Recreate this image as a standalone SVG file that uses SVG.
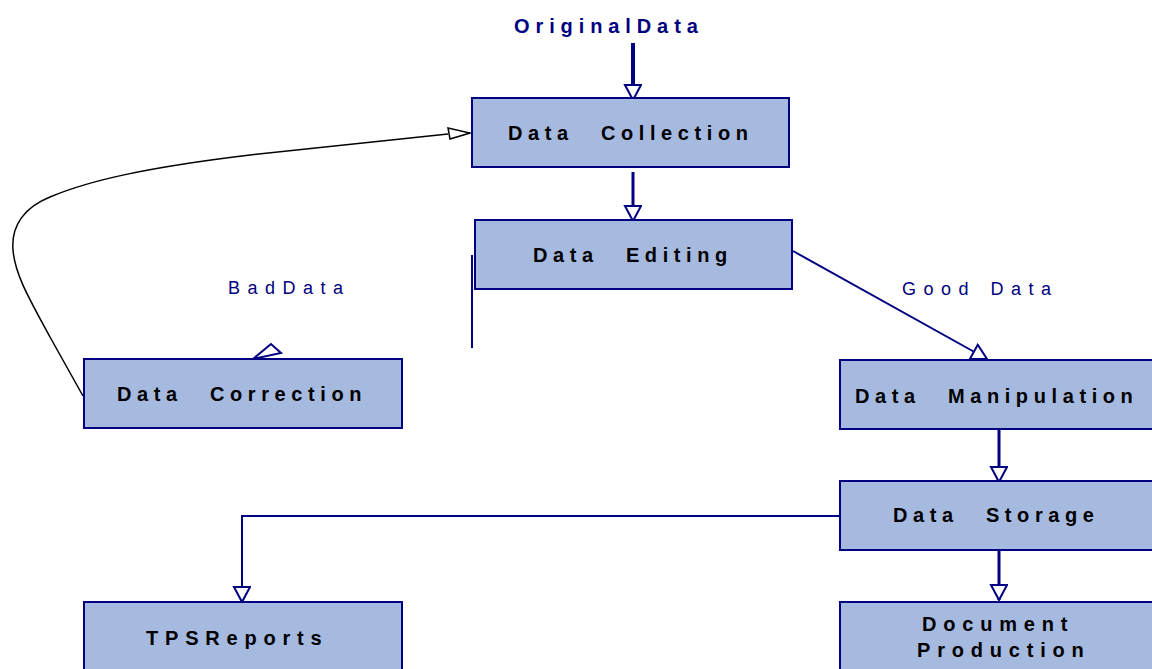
<svg xmlns="http://www.w3.org/2000/svg" width="1152" height="669" viewBox="0 0 1152 669">
  <style>
    .box { fill: #A6B9DF; stroke: #000080; stroke-width: 2; }
    .lbl { font-family: "Liberation Sans", Arial, sans-serif; font-weight: bold; font-size: 20px; fill: #000000; letter-spacing: 5.6px; word-spacing: 16px; }
    .lbl2 { font-family: "Liberation Sans", Arial, sans-serif; font-weight: bold; font-size: 20px; fill: #000000; letter-spacing: 6.8px; }
    .ttl { font-family: "Liberation Sans", Arial, sans-serif; font-weight: bold; font-size: 20px; fill: #000080; letter-spacing: 5.9px; }
    .edge { font-family: "Liberation Sans", Arial, sans-serif; font-size: 18px; fill: #000080; letter-spacing: 7.5px; }
    .conn { fill: none; stroke: #000080; stroke-width: 2; }
    .head { fill: #FFFFFF; stroke: #000080; stroke-width: 2; stroke-linejoin: miter; }
  </style>
  <defs>
    <marker id="tri" markerUnits="userSpaceOnUse" markerWidth="24" markerHeight="24" viewBox="0 0 24 24" refX="17" refY="9" orient="auto">
      <path d="M2,1 L17,9 L2,17 Z" fill="#FFFFFF" stroke="#000080" stroke-width="2"/>
    </marker>
  </defs>

  <g id="connectors">
    <line class="conn" x1="633" y1="43" x2="633" y2="100" style="stroke-width:4" marker-end="url(#tri)"/>
    <line class="conn" x1="633" y1="172" x2="633" y2="221" style="stroke-width:3" marker-end="url(#tri)"/>
    <line class="conn" x1="793" y1="251" x2="987" y2="359" marker-end="url(#tri)"/>
    <line class="conn" x1="472" y1="255" x2="472" y2="348"/>
    <polygon class="head" points="253,359 271,344 281,353"/>
    <path d="M83,396 L50,337 C30,300 15,275 13,250 C11,225 25,207 50,197 C90,180 150,167 250,155 L448,134" fill="none" stroke="#000000" stroke-width="1.5"/>
    <polygon points="448,128 470,133 450,139" fill="#FFFFFF" stroke="#000000" stroke-width="1.5"/>
    <line class="conn" x1="999" y1="429" x2="999" y2="482" style="stroke-width:3" marker-end="url(#tri)"/>
    <polyline class="conn" points="840,516 242,516 242,602" marker-end="url(#tri)"/>
    <line class="conn" x1="999" y1="550" x2="999" y2="600" style="stroke-width:3" marker-end="url(#tri)"/>
    <text class="ttl" x="514" y="33">OriginalData</text>
    <text class="edge" x="228" y="294">BadData</text>
    <text class="edge" x="902" y="295" style="word-spacing:2px">Good Data</text>
  </g>

  <g id="data-collection">
    <rect class="box" x="472" y="98" width="317" height="69"/>
    <text class="lbl" x="508" y="140">Data Collection</text>
  </g>
  <g id="data-editing">
    <rect class="box" x="475" y="220" width="317" height="69"/>
    <text class="lbl" x="533" y="262">Data Editing</text>
  </g>
  <g id="data-correction">
    <rect class="box" x="84" y="359" width="318" height="69"/>
    <text class="lbl" x="117" y="401">Data Correction</text>
  </g>
  <g id="data-manipulation">
    <rect class="box" x="840" y="360" width="330" height="69"/>
    <text class="lbl" x="855" y="403">Data Manipulation</text>
  </g>
  <g id="data-storage">
    <rect class="box" x="840" y="481" width="330" height="69"/>
    <text class="lbl" x="893" y="522">Data Storage</text>
  </g>
  <g id="tps-reports">
    <rect class="box" x="84" y="602" width="318" height="80"/>
    <text class="lbl2" x="146" y="645">TPSReports</text>
  </g>
  <g id="document-production">
    <rect class="box" x="840" y="602" width="330" height="80"/>
    <text class="lbl2" x="922" y="631">Document</text>
    <text class="lbl2" x="917" y="657">Production</text>
  </g>
</svg>
